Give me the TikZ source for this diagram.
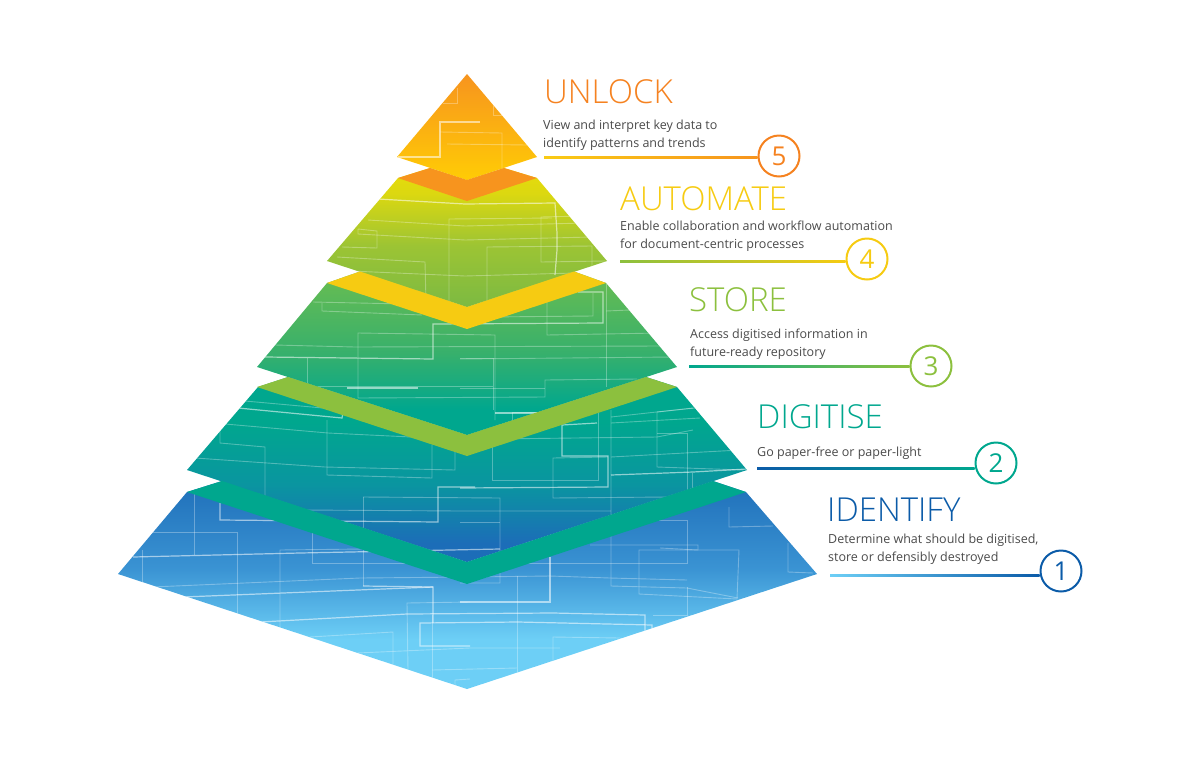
\documentclass[tikz,border=0pt]{standalone}
\usepackage{fontspec}
\setmainfont{Open Sans}
\newfontfamily\headfont{Open Sans Light}
\definecolor{blueone}{HTML}{0B5BA8}
\definecolor{skyone}{HTML}{6DCFF6}
\definecolor{midone}{HTML}{3A93D3}
\definecolor{topone}{HTML}{1F6FB9}
\definecolor{greentwo}{HTML}{00A78E}
\definecolor{midtwo}{HTML}{0A95A0}
\definecolor{lowtwo}{HTML}{1C6DB8}
\definecolor{topthree}{HTML}{6ABD50}
\definecolor{midthree}{HTML}{37B06C}
\definecolor{greenthree}{HTML}{8CC03E}
\definecolor{yellowfour}{HTML}{F6CB12}
\definecolor{topfour}{HTML}{E8DC0B}
\definecolor{uppfour}{HTML}{DCD810}
\definecolor{midfour}{HTML}{9CC434}
\definecolor{lowfour}{HTML}{7CBA42}
\definecolor{orangefive}{HTML}{F58220}
\definecolor{orangeband}{HTML}{F7941E}
\definecolor{lowfive}{HTML}{FFCC05}
\definecolor{startlinefive}{HTML}{F9CB14}
\definecolor{bodygrey}{HTML}{4A4A4A}
\pgfdeclareverticalshading{tierone}{100bp}{color(0bp)=(skyone); color(37bp)=(skyone); color(54bp)=(midone); color(75bp)=(topone); color(100bp)=(topone)}
\pgfdeclareverticalshading{tiertwo}{100bp}{color(0bp)=(lowtwo); color(30bp)=(lowtwo); color(46bp)=(midtwo); color(63bp)=(greentwo); color(100bp)=(greentwo)}
\pgfdeclareverticalshading{tierthree}{100bp}{color(0bp)=(greentwo); color(33bp)=(greentwo); color(50bp)=(midthree); color(75bp)=(topthree); color(100bp)=(topthree)}
\pgfdeclareverticalshading{tierfour}{100bp}{color(0bp)=(lowfour); color(25bp)=(lowfour); color(47bp)=(midfour); color(66bp)=(uppfour); color(75bp)=(topfour); color(100bp)=(topfour)}
\tikzset{
	headtext/.style={anchor=base west,inner sep=0pt,font=\headfont\fontsize{33}{36}\selectfont},
	bodytext/.style={anchor=base west,inner sep=0pt,align=left,text=bodygrey,font=\fontsize{12.5}{17.5}\selectfont},
	numring/.style={circle,draw,line width=2pt,minimum size=41pt,inner sep=0pt,font=\fontsize{26}{28}\selectfont},
	trace/.style={white,opacity=.3,line width=.9pt},
	tracebright/.style={white,opacity=.55,line width=1.2pt}
}
\begin{document}
\begin{tikzpicture}[x=1pt,y=-1pt]
\useasboundingbox (0,0) rectangle (1200,764);

%tiers
\shade[shading=tierone] (187,492)--(118,574)--(467,689)--(817,574)--(746,492)--(713,481)--(467,562)--(222,481)--cycle;
\shade[shading=tiertwo] (258,387)--(187,470)--(467,562)--(747,470)--(677,387)--(646,377)--(467,435)--(288,377)--cycle;
\shade[shading=tierthree] (327,283)--(257,367)--(467,435)--(677,367)--(606,283)--(574,271.5)--(467,307)--(360,271.5)--cycle;
\shade[shading=tierfour] (398,178)--(327,261)--(467,307)--(607,261)--(537,178)--(504,168)--(467,180)--(430,168)--cycle;
\shade[top color=orangeband,bottom color=lowfive] (467,74)--(397,157)--(467,180)--(537,157)--cycle;

%circuit lines
\begin{scope}
\clip (187,492)--(118,574)--(467,689)--(817,574)--(746,492)--(713,481)--(467,562)--(222,481)--cycle
 (258,387)--(187,470)--(467,562)--(747,470)--(677,387)--(646,377)--(467,435)--(288,377)--cycle
 (327,283)--(257,367)--(467,435)--(677,367)--(606,283)--(574,271.5)--(467,307)--(360,271.5)--cycle
 (398,178)--(327,261)--(467,307)--(607,261)--(537,178)--(504,168)--(467,180)--(430,168)--cycle
 (467,74)--(397,157)--(467,180)--(537,157)--cycle;
%first
\draw[trace] (194,490)--(194,555);
\draw[trace] (142,550)--(142,600);
\draw[tracebright] (133,557)--(300,553)--(500,549);
\draw[trace] (153,532)--(237,532)--(237,620);
\draw[tracebright] (220,503)--(220,520)--(438,522)--(438,487)--(475,487);
\draw[trace] (312,533)--(312,563)--(687,563)--(687,520)--(657,520);
\draw[trace] (280,640)--(280,550)--(363,549);
\draw[trace] (363,497)--(363,586);
\draw[tracebright] (363,586)--(433,587)--(433,623);
\draw[trace] (152,587)--(360,578)--(470,577)--(550,576)--(610,578)--(687,580);
\draw[tracebright] (183,597)--(433,587);
\draw[tracebright] (260,622)--(407,614)--(553,613)--(645,615)--(645,640);
\draw[trace] (310,637)--(393,632)--(393,667);
\draw[trace] (357,653)--(470,648)--(560,648);
\draw[trace] (470,602)--(407,603)--(408,670);
\draw[tracebright] (652,640)--(652,625)--(518,622)--(420,623)--(420,646)--(470,646);
\draw[trace] (432,615)--(432,680);
\draw[trace] (470,679)--(455,680)--(455,690);
\draw[trace] (432,670)--(517,668);
\draw[trace] (517,673)--(517,576);
\draw[tracebright] (550,557)--(550,602)--(460,602);
\draw[trace] (553,662)--(553,637)--(620,638);
\draw[trace] (611,410)--(611,586)--(687,588)--(738,598);
\draw[trace] (639,550)--(639,594)--(737,599)--(739,550)--cycle;
\draw[trace] (590,545)--(698,545)--(698,550)--(660,548);
\draw[trace] (729,507)--(729,527)--(773,526);
\draw[trace] (788,543)--(788,572)--(813,573);
\draw[trace] (687,587)--(687,615)--(653,615);
\draw[trace] (363,497)--(500,498)--(500,583)--(460,583);
\draw[trace] (303,510)--(460,511)--(611,511);
\draw[trace] (460,522)--(500,522);
%second
\draw[tracebright] (238,408)--(342,418)--(343,413);
\draw[trace] (245,401)--(345,410);
\draw[trace] (225,424)--(328,433)--(432,438);
\draw[trace] (327,420)--(327,475)--(432,478)--(432,445);
\draw[trace] (220,430)--(220,443)--(265,447)--(265,497);
\draw[trace] (195,458)--(325,467)--(455,470)--(455,452);
\draw[trace] (492,440)--(492,480)--(598,480)--(598,413);
\draw[trace] (492,439)--(657,437)--(693,430);
\draw[tracebright] (597,423)--(562,425)--(562,456)--(608,456)--(608,487)--(460,488);
\draw[trace] (608,457)--(553,458)--(553,498)--(667,497);
\draw[trace] (611,417)--(693,408);
\draw[trace] (611,423)--(700,418);
\draw[trace] (695,408)--(657,412)--(657,467)--(743,470);
\draw[trace] (657,433)--(687,433)--(687,490);
\draw[tracebright] (611,475)--(693,472)--(747,469);
\draw[trace] (692,473)--(692,490);
\draw[trace] (611,457)--(740,450);
\draw[trace] (512,422)--(512,412)--(540,412);
\draw[tracebright] (495,413)--(537,413);
%third
\draw[trace] (322,303)--(322,311)--(422,315);
\draw[trace] (313,302)--(405,304);
\draw[trace] (358,398)--(358,333)--(495,335)--(495,420);
\draw[tracebright] (265,357)--(433,359)--(433,324)--(603,323)--(603,292)--(578,292);
\draw[trace] (275,345)--(355,347)--(660,346);
\draw[trace] (307,358)--(307,383);
\draw[trace] (318,386)--(493,386)--(493,410);
\draw[tracebright] (347,388)--(418,388);
\draw[trace] (358,398)--(545,397)--(545,380)--(637,379);
\draw[trace] (460,388)--(545,388);
\draw[trace] (460,358)--(493,358)--(493,386);
\draw[trace] (547,293)--(547,335)--(660,333);
\draw[trace] (487,317)--(593,316)--(593,293);
\draw[trace] (606,283)--(606,387);
\draw[trace] (606,311)--(630,310);
\draw[trace] (460,359)--(673,357);
%fourth
\draw[tracebright] (378,199)--(465,204)--(555,203)--(557,233)--(557,250)--(555,275);
\draw[trace] (368,220)--(465,226)--(585,223);
\draw[trace] (358,229)--(377,231)--(377,248)--(342,247);
\draw[trace] (358,229)--(358,234)--(465,240)--(592,237);
\draw[trace] (337,257)--(425,262)--(426,302);
\draw[trace] (552,218)--(449,219)--(449,308);
\draw[trace] (487,300)--(487,247)--(592,246)--(592,275);
\draw[trace] (582,216)--(541,217)--(541,262)--(605,261);
\draw[trace] (328,270)--(465,276)--(575,273);
%fifth
\draw[trace] (457,88)--(457,103)--(443,103);
\draw[trace] (493,103)--(493,115)--(503,115);
\draw[tracebright] (480,122)--(440,122)--(440,157)--(398,157);
\draw[trace] (440,132)--(502,133)--(502,168);
\draw[trace] (447,144)--(527,145);
\end{scope}

%bands
\fill[greentwo] (187,492)--(222,481)--(467,562)--(713,481)--(746,492)--(467,584)--cycle;
\fill[greenthree] (257,387)--(288,377)--(467,435)--(646,377)--(677,387)--(467,456)--cycle;
\fill[yellowfour] (327,283)--(360,271.5)--(467,307)--(574,271.5)--(606,283)--(467,329)--cycle;
\fill[orangeband] (398,178)--(430,168)--(467,180)--(504,168)--(537,178)--(467,201)--cycle;

%texts
\node[headtext,text=orangefive] (headfive) at (544,103) {UNLOCK};
\node[bodytext] (textfive) at (543,147) {View and interpret key data to\\identify patterns and trends};
\node[headtext,text=yellowfour] (headfour) at (620,210) {AUTOMATE};
\node[bodytext] (textfour) at (620,248) {Enable collaboration and workflow automation\\for document-centric processes};
\node[headtext,text=greenthree] (headthree) at (689,311) {STORE};
\node[bodytext] (textthree) at (690,356) {Access digitised information in\\future-ready repository};
\node[headtext,text=greentwo] (headtwo) at (757,428) {DIGITISE};
\node[bodytext] (texttwo) at (757,456) {Go paper-free or paper-light};
\node[headtext,text=blueone] (headone) at (827,521) {IDENTIFY};
\node[bodytext] (textone) at (828,561) {Determine what should be digitised,\\store or defensibly destroyed};

%rings
\node[numring,draw=orangefive,text=orangefive] (numfive) at (779,156) {5};
\node[numring,draw=yellowfour,text=yellowfour] (numfour) at (867,259) {4};
\node[numring,draw=greenthree,text=greenthree] (numthree) at (931,366) {3};
\node[numring,draw=greentwo,text=greentwo] (numtwo) at (996,463) {2};
\node[numring,draw=blueone,text=blueone] (numone) at (1061,571) {1};

\coordinate (startfive) at (544,157);
\coordinate (startfour) at (620,261);
\coordinate (startthree) at (689,366);
\coordinate (starttwo) at (757,468);
\coordinate (startone) at (830,575);
\coordinate (endfive) at (numfive.west |- startfive);
\coordinate (endfour) at (numfour.west |- startfour);
\coordinate (endthree) at (numthree.west |- startthree);
\coordinate (endtwo) at (numtwo.west |- starttwo);
\coordinate (endone) at (numone.west |- startone);

%leader lines
\shade[left color=startlinefive,right color=orangeband] ([yshift=-1pt]startfive) rectangle ([yshift=1pt]endfive);
\shade[left color=greenthree,right color=yellowfour] ([yshift=-1pt]startfour) rectangle ([yshift=1pt]endfour);
\shade[left color=greentwo,right color=greenthree] ([yshift=-1pt]startthree) rectangle ([yshift=1pt]endthree);
\shade[left color=blueone,right color=greentwo] ([yshift=-1pt]starttwo) rectangle ([yshift=1pt]endtwo);
\shade[left color=skyone,right color=blueone] ([yshift=-1pt]startone) rectangle ([yshift=1pt]endone);
\end{tikzpicture}
\end{document}
